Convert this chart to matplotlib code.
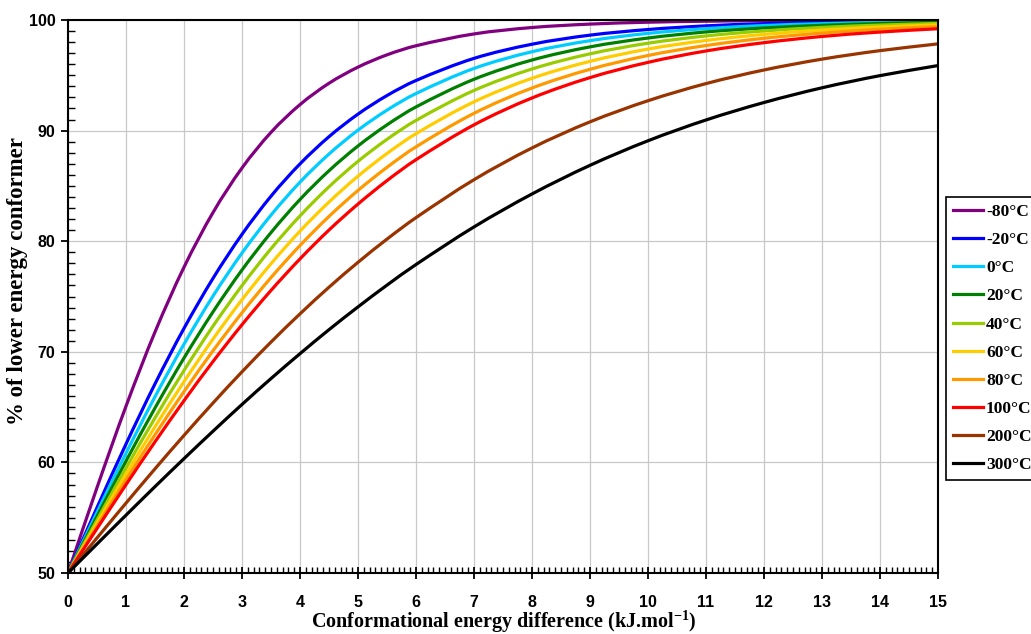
import matplotlib
matplotlib.use("Agg")
import matplotlib.pyplot as plt
from matplotlib.ticker import MultipleLocator
from matplotlib.path import Path
from matplotlib.patches import PathPatch
from matplotlib.lines import Line2D

plt.rcParams["mathtext.fontset"] = "custom"
plt.rcParams["mathtext.rm"] = "Liberation Serif:bold"
plt.rcParams["mathtext.bf"] = "Liberation Serif:bold"
plt.rcParams["mathtext.it"] = "Liberation Serif:bold"

# Energy difference (kJ/mol)
energy = [0, 0.5, 1, 1.5, 2, 2.5, 3, 3.5, 4, 4.5, 5, 5.5, 6,
          7, 8, 9, 10, 11, 12, 13, 14, 15]

# % of lower energy conformer
t_m80 = [50, 57.72, 65.08, 71.79, 77.65, 82.59, 86.62, 89.84, 92.35, 94.28, 95.74, 96.85, 97.67,
         98.74, 99.32, 99.63, 99.80, 99.89, 99.94, 99.97, 99.98, 99.99]
t_m20 = [50, 55.91, 61.66, 67.10, 72.12, 76.64, 80.62, 84.07, 86.99, 89.45, 91.49, 93.17, 94.53,
         96.53, 97.81, 98.63, 99.14, 99.47, 99.67, 99.79, 99.87, 99.92]
t_0 = [50, 55.48, 60.83, 65.94, 70.69, 75.04, 78.93, 82.36, 85.34, 87.88, 90.04, 91.85, 93.35,
       95.62, 97.13, 98.13, 98.79, 99.22, 99.50, 99.67, 99.79, 99.86]
t_20 = [50, 55.11, 60.12, 64.92, 69.44, 73.61, 77.40, 80.78, 83.77, 86.37, 88.61, 90.52, 92.14,
        94.64, 96.38, 97.57, 98.37, 98.92, 99.28, 99.52, 99.68, 99.79]
t_40 = [50, 54.79, 59.49, 64.02, 68.31, 72.32, 75.99, 79.32, 82.29, 84.92, 87.22, 89.21, 90.92,
        93.63, 95.57, 96.94, 97.90, 98.56, 99.01, 99.33, 99.54, 99.69]
t_60 = [50, 54.50, 58.93, 63.22, 67.30, 71.15, 74.71, 77.96, 80.91, 83.54, 85.88, 87.93, 89.72,
        92.60, 94.73, 96.26, 97.37, 98.15, 98.70, 99.09, 99.37, 99.56]
t_80 = [50, 54.25, 58.43, 62.50, 66.40, 70.09, 73.53, 76.71, 79.61, 82.24, 84.59, 86.68, 88.53,
        91.56, 93.85, 95.54, 96.79, 97.69, 98.35, 98.82, 99.16, 99.40]
t_100 = [50, 54.02, 57.99, 61.86, 65.58, 69.12, 72.45, 75.55, 78.40, 81.01, 83.36, 85.48, 87.37,
         90.52, 92.95, 94.79, 96.17, 97.20, 97.95, 98.51, 98.91, 99.21]
t_200 = [50, 53.17, 56.32, 59.42, 62.44, 65.37, 68.19, 70.88, 73.43, 75.84, 78.09, 80.19, 82.13,
         85.56, 88.43, 90.79, 92.70, 94.25, 95.48, 96.46, 97.23, 97.84]
t_300 = [50, 52.62, 55.23, 57.81, 60.34, 62.82, 65.24, 67.58, 69.83, 72.00, 74.06, 76.03, 77.89,
         81.29, 84.27, 86.86, 89.08, 90.96, 92.54, 93.87, 94.97, 95.88]

labels = ["-80°C", "-20°C", "0°C", "20°C", "40°C", "60°C", "80°C", "100°C", "200°C", "300°C"]
series = [t_m80, t_m20, t_0, t_20, t_40, t_60, t_80, t_100, t_200, t_300]
colors = ["#800080", "#0000FF", "#00CCFF", "#008000", "#99CC00",
          "#FFCC00", "#FF9900", "#FF0000", "#993300", "#000000"]


def smooth_path(xs, ys):
    """Smoothed line through the data points (cubic Hermite drawn as Bezier)."""
    n = len(xs)
    slopes = []
    for i in range(n):
        if i == 0:
            m = (ys[1] - ys[0]) / (xs[1] - xs[0])
        elif i == n - 1:
            m = (ys[-1] - ys[-2]) / (xs[-1] - xs[-2])
        else:
            m = (ys[i + 1] - ys[i - 1]) / (xs[i + 1] - xs[i - 1])
        slopes.append(m)
    verts = [(xs[0], ys[0])]
    codes = [Path.MOVETO]
    for i in range(n - 1):
        h = xs[i + 1] - xs[i]
        verts += [(xs[i] + h / 3, ys[i] + slopes[i] * h / 3),
                  (xs[i + 1] - h / 3, ys[i + 1] - slopes[i + 1] * h / 3),
                  (xs[i + 1], ys[i + 1])]
        codes += [Path.CURVE4] * 3
    return Path(verts, codes)


fig = plt.figure(figsize=(10.31, 6.34), dpi=100)
ax = fig.add_axes([68/1031, 61/634, 870/1031, 553/634])

handles = []
for ys, lab, c in zip(series, labels, colors):
    patch = PathPatch(smooth_path(energy, ys), facecolor="none", edgecolor=c,
                      lw=2.3, capstyle="round", zorder=3)
    ax.add_patch(patch)
    handles.append(Line2D([], [], color=c, lw=2.3, label=lab))

ax.set_xlim(0, 15)
ax.set_ylim(50, 100)
ax.xaxis.set_major_locator(MultipleLocator(1))
ax.xaxis.set_minor_locator(MultipleLocator(0.1))
ax.yaxis.set_major_locator(MultipleLocator(10))
ax.yaxis.set_minor_locator(MultipleLocator(1))
ax.grid(True, which="major", color="#c8c8c8", lw=0.9)
ax.set_axisbelow(True)

for s in ax.spines.values():
    s.set_linewidth(1.5)
    s.set_color("black")
    s.set_zorder(4)

ax.tick_params(axis="x", which="major", direction="inout", length=9, width=1.3, pad=11)
ax.tick_params(axis="x", which="minor", direction="in", length=4, width=1.0)
ax.tick_params(axis="y", which="major", direction="out", length=5, width=1.3, pad=4)
ax.tick_params(axis="y", which="minor", direction="in", length=5, width=1.0)

for t in ax.get_xticklabels() + ax.get_yticklabels():
    t.set_fontfamily("Liberation Sans")
    t.set_fontweight("bold")
    t.set_fontsize(11.5)

fig.text(18/1031, 1 - 281/634, "% of lower energy conformer", rotation=90,
         ha="center", va="center", family="Liberation Serif", weight="bold", fontsize=16.5)
fig.text(504/1031, 1 - 622/634, "Conformational energy difference (kJ.mol$^{-1}$)",
         ha="center", va="center", family="Liberation Serif", weight="bold", fontsize=14.5)

leg = fig.legend(handles=handles, loc="upper left", bbox_to_anchor=(946/1031, 1 - 197/634),
                 prop={"family": "Liberation Serif", "weight": "bold", "size": 12.5},
                 frameon=True, fancybox=False, edgecolor="black", framealpha=1,
                 handlelength=1.75, handletextpad=0.15, labelspacing=0.69,
                 borderpad=0.4, borderaxespad=0)
leg.get_frame().set_linewidth(1.2)

fig.savefig("out.png", dpi=100)
